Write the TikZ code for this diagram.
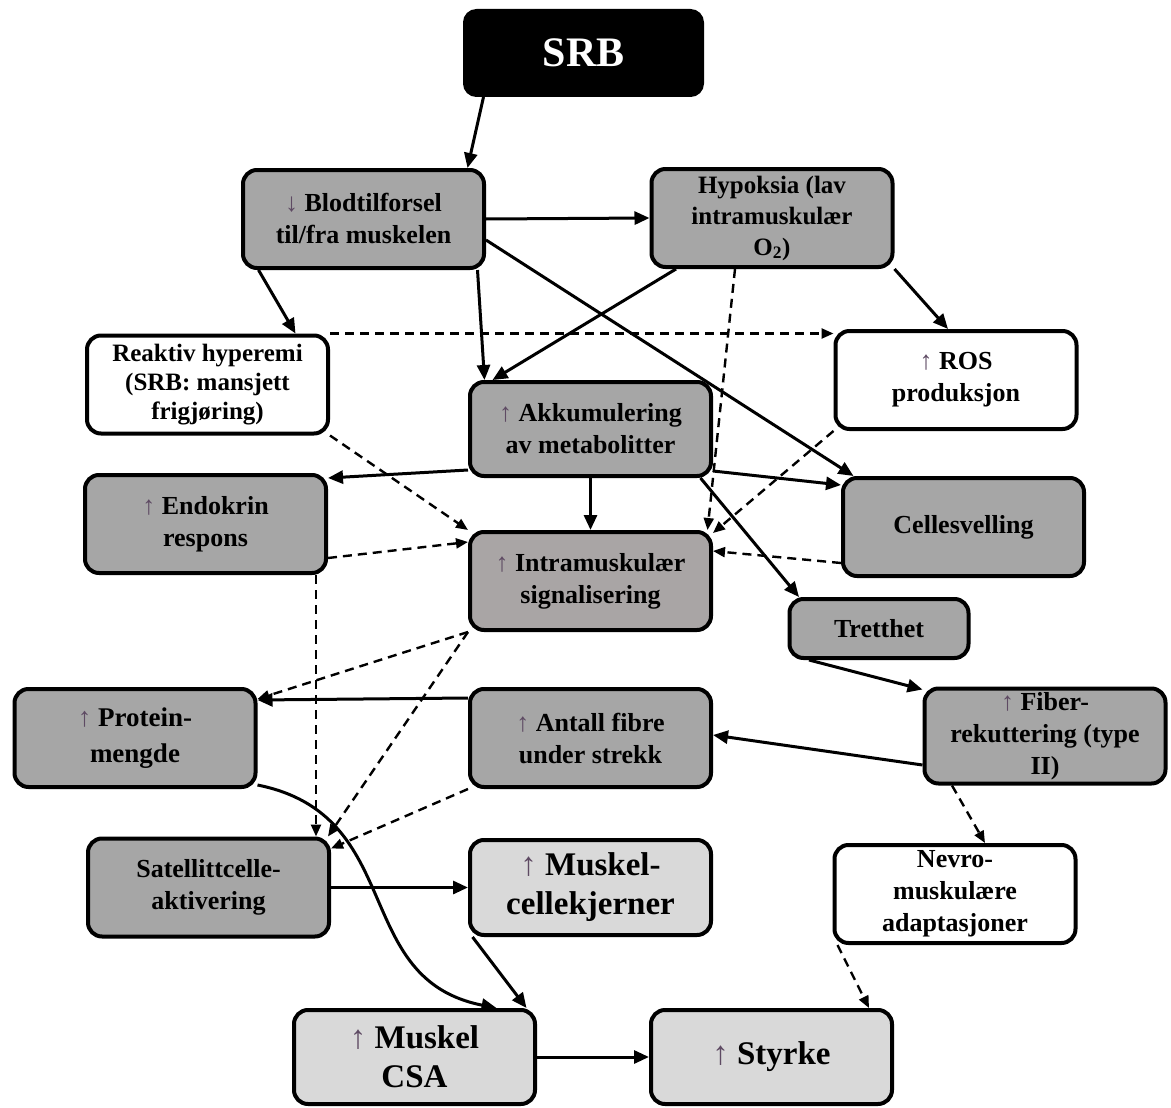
\documentclass[tikz,border=0pt]{standalone}
\usepackage{fontspec}
\setmainfont{Liberation Serif}
\usepackage{tikz}
\usetikzlibrary{arrows, arrows.meta, positioning}
\definecolor{boxgray}{HTML}{A6A6A6}
\definecolor{signalgray}{HTML}{A9A5A5}
\definecolor{palegray}{HTML}{D9D9D9}
\definecolor{upcol}{HTML}{5E4A63}
\newcommand{\upmark}{{\mdseries\color{upcol}↑}}
\newcommand{\downmark}{{\mdseries\color{upcol}↓}}
\tikzstyle{srb_box} = [rectangle, rounded corners=12pt, text centered, draw=black, fill=black, text=white, line width=3pt, minimum width=238pt, minimum height=85pt, font=\bfseries\fontsize{42}{48}\selectfont]
\tikzstyle{effect} = [rectangle, rounded corners=14pt, text centered, align=center, draw=black, line width=4pt, fill=boxgray, minimum width=241pt, minimum height=98pt, inner sep=2pt, font=\bfseries\fontsize{26}{32}\selectfont]
\tikzstyle{signal} = [effect, fill=signalgray]
\tikzstyle{outcome} = [effect, fill=palegray, font=\bfseries\fontsize{33}{39}\selectfont]
\tikzstyle{response} = [effect, fill=white]
\tikzstyle{cause_step} = [line width=3pt, black, ->, >={Triangle[length=15pt, width=13pt]}]
\tikzstyle{maybe_step} = [line width=2.4pt, black, dash pattern=on 9pt off 6pt, ->, >={Triangle[length=12pt, width=10pt]}]

\begin{document}
\begin{tikzpicture}[x=1pt, y=-1pt]

    \useasboundingbox (0,0) rectangle (1171,1108);

    \node (srb) [srb_box] at (583.5,53) {SRB};

    \node (blod) [effect, minimum height=98pt] at (363.5,219) {\downmark{} Blodtilforsel\\til/fra muskelen};
    \node (hyp) [effect, font=\bfseries\fontsize{25}{31}\selectfont] at (772,218) {Hypoksia (lav\\intramuskulær\\O\textsubscript{2})};

    \node (reak) [response, font=\bfseries\fontsize{25}{29}\selectfont] at (207.5,384.5) {Reaktiv hyperemi\\(SRB: mansjett\\frigjøring)};
    \node (ros) [response] at (956,380) {\upmark{} ROS\\produksjon};
    \node (akk) [effect, minimum height=94pt] at (590.5,429) {\upmark{} Akkumulering\\av metabolitter};

    \node (endo) [effect] at (205.5,524) {\upmark{} Endokrin\\respons};
    \node (celle) [effect] at (963.5,527) {Cellesvelling};
    \node (intra) [signal] at (590.5,581) {\upmark{} Intramuskulær\\signalisering};
    \node (tret) [effect, minimum width=179pt, minimum height=59pt] at (879,628.5) {Tretthet};

    \node (prot) [effect, font=\bfseries\fontsize{27}{36}\selectfont] at (135,738) {\upmark{} Protein-\\mengde};
    \node (antall) [effect] at (590.5,738) {\upmark{} Antall fibre\\under strekk};
    \node (fiber) [effect, minimum height=95pt] at (1045,736) {\upmark{} Fiber-\\rekuttering (type\\II)};

    \node (sat) [effect] at (208.5,887.5) {Satellittcelle-\\aktivering};
    \node (mcell) [outcome, minimum height=95pt] at (590.5,887.5) {\upmark{} Muskel-\\cellekjerner};
    \node (nevro) [response] at (955,894) {Nevro-\\muskulære\\adaptasjoner};

    \node (csa) [outcome, minimum height=94pt] at (414.5,1057) {\upmark{} Muskel\\CSA};
    \node (styrke) [outcome, minimum height=94pt] at (771.5,1057) {\upmark{} Styrke};

    % solid arrows
    \draw [cause_step] ([xshift=-100]srb.south) -- ([xshift=104]blod.north);
    \draw [cause_step] (blod.east) -- (hyp.west);
    \draw [cause_step] ([xshift=-105]blod.south) -- ([xshift=88]reak.north);
    \draw [cause_step] ([xshift=114]blod.south) -- ([xshift=-106]akk.north);
    \draw [cause_step] ([yshift=-21]blod.east) -- ([xshift=-110]celle.north);
    \draw [cause_step] ([xshift=-96]hyp.south) -- ([xshift=-98]akk.north);
    \draw [cause_step] (hyp.south east) -- ([xshift=-8]ros.north);
    \draw [cause_step] ([yshift=-41]akk.west) -- ([yshift=-5]endo.north east);
    \draw [cause_step] (akk.south) -- (intra.north);
    \draw [cause_step] ([yshift=-42]akk.east) -- ([yshift=42]celle.west);
    \draw [cause_step] ([xshift=110]akk.south) -- ([xshift=-80]tret.north);
    \draw [cause_step] ([xshift=-70]tret.south) -- ([yshift=-3]fiber.north west);
    \draw [cause_step] ([yshift=-29]fiber.west) -- ([yshift=3]antall.east);
    \draw [cause_step] ([yshift=40]antall.west) -- ([yshift=38]prot.east);
    \draw [cause_step] ([yshift=-47]prot.east) .. controls +(150,30) and +(-147,-29) .. ([xshift=82]csa.north);
    \draw [cause_step] (sat.east) -- (mcell.west);
    \draw [cause_step] ([xshift=-118]mcell.south) -- ([xshift=112]csa.north);
    \draw [cause_step] (csa.east) -- (styrke.west);

    % dashed arrows
    \draw [maybe_step] (reak.north east) -- (reak.north east -| ros.west);
    \draw [maybe_step] (reak.south east) -- (intra.north west);
    \draw [maybe_step] ([xshift=-37]hyp.south) -- ([xshift=117]intra.north);
    \draw [maybe_step] (ros.south west) -- ([yshift=-3]intra.north east);
    \draw [maybe_step] ([yshift=-36]celle.west) -- ([yshift=30]intra.east);
    \draw [maybe_step] ([yshift=-34]endo.east) -- ([yshift=39]intra.west);
    \draw [maybe_step] (intra.south west) -- ([yshift=-12]prot.north east);
    \draw [maybe_step] ([xshift=110.5]endo.south) -- ([xshift=107.5]sat.north);
    \draw [maybe_step] (intra.south west) -- ([xshift=-3]sat.north east);
    \draw [maybe_step] (antall.south west) -- ([yshift=-12]sat.north east);
    \draw [maybe_step] ([xshift=-93]fiber.south) -- ([xshift=30]nevro.north);
    \draw [maybe_step] ([xshift=5]nevro.south west) -- ([xshift=-25]styrke.north east);

\end{tikzpicture}
\end{document}
